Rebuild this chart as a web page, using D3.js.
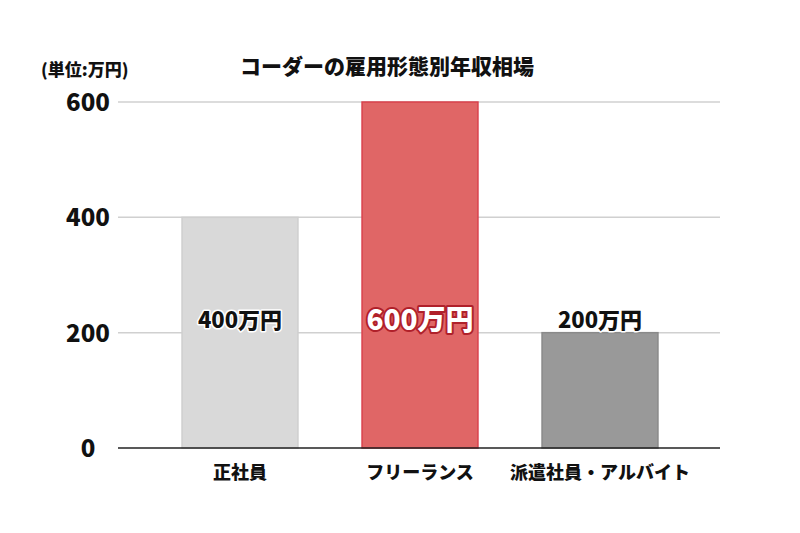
<!DOCTYPE html>
<html><head><meta charset="utf-8">
<script src="https://cdn.jsdelivr.net/npm/d3@7"></script>
<style>
html,body{margin:0;padding:0;background:#fff;}
svg text{font-family:"Noto Sans CJK JP","Noto Sans",sans-serif;font-weight:900;}
</style></head>
<body>
<svg id="chart" width="800" height="533"></svg>
<script>
const categories = ["正社員", "フリーランス", "派遣社員・アルバイト"];
const values = [400, 600, 200];
const valueLabels = ["400万円", "600万円", "200万円"];
const yTicks = [0, 200, 400, 600];
const title = "コーダーの雇用形態別年収相場";
const unitLabel = "(単位:万円)";
const fills = ["#d9d9d9", "#e06666", "#999999"];
const strokes = ["#cfcfcf", "#d9424c", "#8a8a8a"];

const svg = d3.select("#chart");
const x = d3.scaleBand().domain(categories).range([150, 690]).paddingInner(0.356).paddingOuter(0.178);
const y = d3.scaleLinear().domain([0, 600]).range([448, 102]);

// gridlines
svg.append("g").selectAll("line").data(yTicks.filter(d => d > 0)).join("line")
  .attr("x1", 118).attr("x2", 720)
  .attr("y1", d => y(d)).attr("y2", d => y(d))
  .attr("stroke", "#d0d0d0").attr("stroke-width", 1.5);

// y axis labels
const yAxis = d3.axisLeft(y).tickValues(yTicks).tickSize(0).tickPadding(0);
const ya = svg.append("g").attr("transform", "translate(88,0)").call(yAxis);
ya.select(".domain").remove();
ya.selectAll("text").attr("font-size", 24).attr("fill", "#111").attr("dy", "0.35em")
  .attr("text-anchor", "middle")
  .style("font-family", "'Noto Sans CJK JP'").style("font-weight", 900);

// bars
svg.append("g").selectAll("rect").data(values).join("rect")
  .attr("x", (d, i) => x(categories[i]))
  .attr("width", x.bandwidth())
  .attr("y", d => y(d))
  .attr("height", d => y(0) - y(d))
  .attr("fill", (d, i) => fills[i])
  .attr("stroke", (d, i) => strokes[i])
  .attr("stroke-width", 1.5);

// baseline
svg.append("line").attr("x1", 118).attr("x2", 720).attr("y1", y(0)).attr("y2", y(0))
  .attr("stroke", "#222").attr("stroke-width", 1.5);

// x axis labels
const xAxis = d3.axisBottom(x).tickSize(0).tickPadding(0);
const xa = svg.append("g").attr("transform", `translate(0,${y(0)})`).call(xAxis);
xa.select(".domain").remove();
xa.selectAll("text").attr("font-size", 18).attr("fill", "#111").attr("dy", "1.7em")
  .style("font-family", "'Noto Sans CJK JP'").style("font-weight", 900);

// value labels
const labelY = y(200) - 15;
const vl = svg.append("g");
vl.selectAll("text.halo").data(values).join("text")
  .attr("class", "halo")
  .attr("x", (d, i) => x(categories[i]) + x.bandwidth() / 2)
  .attr("y", labelY)
  .attr("text-anchor", "middle").attr("dominant-baseline", "central")
  .attr("font-size", (d, i) => i === 1 ? 28 : 22)
  .attr("fill", "none")
  .attr("stroke", (d, i) => i === 1 ? "#b0202a" : "#fff")
  .attr("stroke-width", (d, i) => i === 1 ? 4 : 3)
  .attr("stroke-linejoin", "round")
  .text((d, i) => valueLabels[i]);
vl.selectAll("text.lab").data(values).join("text")
  .attr("class", "lab")
  .attr("x", (d, i) => x(categories[i]) + x.bandwidth() / 2)
  .attr("y", labelY)
  .attr("text-anchor", "middle").attr("dominant-baseline", "central")
  .attr("font-size", (d, i) => i === 1 ? 28 : 22)
  .attr("fill", (d, i) => i === 1 ? "#fff" : "#111")
  .text((d, i) => valueLabels[i]);

// title
svg.append("text").attr("x", 387).attr("y", 65)
  .attr("text-anchor", "middle").attr("dominant-baseline", "central")
  .attr("font-size", 21).attr("fill", "#111").text(title);

// unit
svg.append("text").attr("x", 41).attr("y", 68)
  .attr("dominant-baseline", "central")
  .attr("font-size", 17).attr("fill", "#111").text(unitLabel);
</script>
</body></html>
